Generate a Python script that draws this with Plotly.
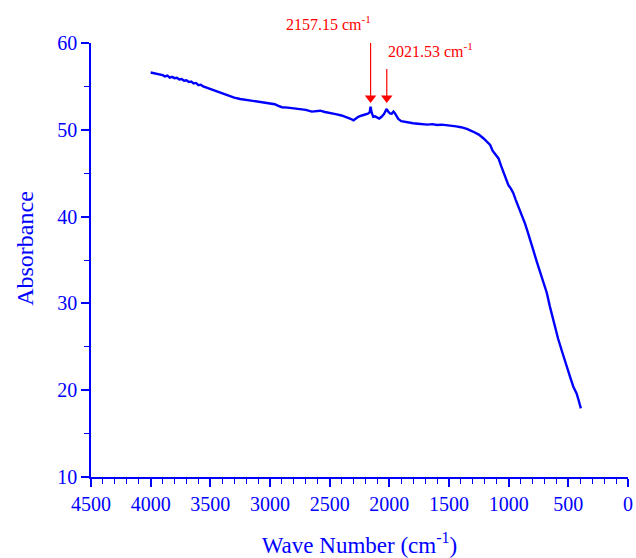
import plotly.graph_objects as go

# FTIR spectrum: wavenumber (cm^-1) vs absorbance
wavenumber = [
    4000, 3960, 3920, 3900, 3880, 3860, 3840, 3820, 3800, 3780,
    3760, 3740, 3720, 3700, 3680, 3660, 3640, 3620, 3600, 3580,
    3560, 3540, 3500, 3450, 3400, 3350, 3300, 3250, 3200, 3150,
    3100, 3050, 3000, 2960, 2930, 2900, 2850, 2800, 2750, 2700,
    2650, 2620, 2580, 2540, 2500, 2450, 2400, 2360, 2330, 2300,
    2280, 2260, 2230, 2200, 2180, 2165, 2157.15, 2148, 2135, 2120,
    2100, 2085, 2065, 2045, 2030, 2021.53, 2010, 1995, 1980, 1965,
    1955, 1940, 1925, 1900, 1870, 1840, 1800, 1760, 1720, 1680,
    1640, 1600, 1560, 1520, 1480, 1440, 1400, 1350, 1300, 1250,
    1210, 1180, 1155, 1135, 1120, 1100, 1085, 1065, 1045, 1025,
    1003, 980, 961, 940, 920, 905, 885, 863, 840, 807,
    793, 760, 730, 710, 680, 654, 630, 612, 585, 556,
    530, 500, 480, 458, 440, 430, 415, 402, 395,
]
absorbance = [
    56.6, 56.5, 56.4, 56.3, 56.15, 56.25, 56.0, 56.1, 55.95, 56.0,
    55.8, 55.85, 55.65, 55.7, 55.5, 55.55, 55.35, 55.4, 55.15, 55.2,
    55.0, 54.9, 54.65, 54.4, 54.15, 53.9, 53.7, 53.55, 53.45, 53.35,
    53.25, 53.2, 53.1, 52.95, 52.75, 52.6, 52.55, 52.45, 52.4, 52.3,
    52.1, 52.15, 52.2, 52.05, 51.9, 51.8, 51.65, 51.5, 51.3, 51.1,
    51.3, 51.5, 51.65, 51.75, 51.85, 52.0, 52.65, 52.0, 51.5, 51.55,
    51.35, 51.3, 51.5, 51.8, 52.2, 52.4, 52.1, 51.9, 51.85, 52.1,
    51.95, 51.5, 51.25, 51.0, 50.9, 50.8, 50.75, 50.7, 50.65, 50.6,
    50.65, 50.55, 50.6, 50.55, 50.5, 50.4, 50.3, 50.1, 49.8, 49.45,
    49.0, 48.6, 48.25, 47.6, 47.3, 47.05, 46.7, 45.9, 45.2, 44.5,
    43.65, 43.2, 42.7, 41.9, 41.2, 40.75, 40.0, 39.2, 38.2, 36.55,
    36.1, 34.6, 33.3, 32.7, 31.2, 29.6, 28.3, 27.1, 25.9, 24.6,
    23.4, 22.1, 21.3, 20.4, 19.9, 19.6, 18.9, 18.4, 17.9,
]

# labelled peaks
peak_positions = [2157.15, 2021.53]
peak_labels = ["2157.15 cm<sup>-1</sup>", "2021.53 cm<sup>-1</sup>"]
arrow_tops = [60.0, 57.0]
arrow_head_y = 53.65
label_pos = [(2514, 1.045), (1651, 0.985)]   # x in data units, y in paper units

x_ticks = [4500, 4000, 3500, 3000, 2500, 2000, 1500, 1000, 500, 0]
y_ticks = [10, 20, 30, 40, 50, 60]

BLUE = "#0000FF"
RED = "#FF0000"
FONT = "Liberation Serif, Times New Roman, serif"

fig = go.Figure()
fig.add_trace(go.Scatter(
    x=wavenumber, y=absorbance, mode="lines",
    line=dict(color=BLUE, width=2.4),
    showlegend=False, hoverinfo="skip",
))

# red arrows pointing down at the labelled peaks
for xp, top in zip(peak_positions, arrow_tops):
    fig.add_trace(go.Scatter(
        x=[xp, xp], y=[top, arrow_head_y], mode="lines",
        line=dict(color=RED, width=1.2),
        showlegend=False, hoverinfo="skip", cliponaxis=False,
    ))
    fig.add_trace(go.Scatter(
        x=[xp], y=[arrow_head_y], mode="markers",
        marker=dict(symbol="triangle-down", size=10, color=RED, line=dict(width=0)),
        showlegend=False, hoverinfo="skip", cliponaxis=False,
    ))

for (lx, ly), txt in zip(label_pos, peak_labels):
    fig.add_annotation(
        x=lx, y=ly, xref="x", yref="paper", text=txt, showarrow=False,
        font=dict(family=FONT, size=16, color=RED),
        xanchor="center", yanchor="middle",
    )

# y-axis title placed as a rotated annotation
fig.add_annotation(
    x=-0.123, y=0.528, xref="paper", yref="paper", text="Absorbance",
    textangle=-90, showarrow=False,
    font=dict(family=FONT, size=24, color=BLUE),
    xanchor="center", yanchor="middle",
)

axis_common = dict(
    showgrid=False, zeroline=False, showline=True, linecolor=BLUE, linewidth=1.6,
    ticks="outside", tickcolor=BLUE, tickwidth=1.6, ticklen=8,
    tickfont=dict(family=FONT, size=20, color=BLUE),
    mirror=False, automargin=False,
)

fig.update_xaxes(
    range=[4500, 0], tickvals=x_ticks, ticktext=[str(v) for v in x_ticks],
    title=dict(text="Wave Number (cm<sup>-1</sup>)", font=dict(family=FONT, size=23, color=BLUE), standoff=24),
    minor=dict(ticks="outside", dtick=100, ticklen=5, tickcolor=BLUE, tickwidth=1.4),
    **axis_common,
)
fig.update_yaxes(
    range=[10, 60], tickvals=y_ticks,
    minor=dict(ticks="outside", dtick=5, ticklen=5, tickcolor=BLUE, tickwidth=1.4),
    **axis_common,
)

fig.update_layout(
    width=636, height=558,
    margin=dict(l=91, r=8, t=43, b=81),
    paper_bgcolor="white", plot_bgcolor="white",
    font=dict(family=FONT, color=BLUE),
)

fig.write_html("out.html")
